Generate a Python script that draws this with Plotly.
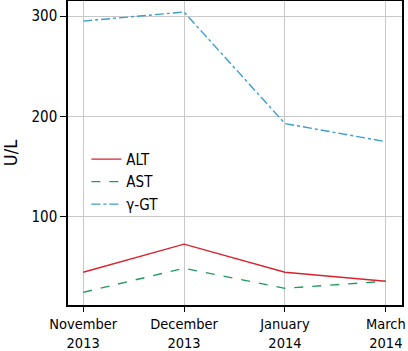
import plotly.graph_objects as go

months = ["November<br>2013", "December<br>2013", "January<br>2014", "March<br>2014"]
alt = [45, 73, 45, 36]
ast = [25, 49, 29, 36]
ggt = [295, 304, 193, 175]

FONT = "DejaVu Sans Condensed, Liberation Sans Narrow, sans-serif"

fig = go.Figure()
fig.add_trace(go.Scatter(x=[0, 1, 2, 3], y=alt, mode="lines", name="ALT",
                         line=dict(color="#d8232f", width=1.4)))
fig.add_trace(go.Scatter(x=[0, 1, 2, 3], y=ast, mode="lines", name="AST",
                         line=dict(color="#1f9a5c", width=1.4, dash="dash")))
fig.add_trace(go.Scatter(x=[0, 1, 2, 3], y=ggt, mode="lines", name="γ-GT",
                         line=dict(color="#3a9fd0", width=1.4, dash="dashdot")))

fig.update_layout(
    width=408, height=351,
    margin=dict(l=68, r=6, t=1, b=46, autoexpand=False),
    plot_bgcolor="white", paper_bgcolor="white",
    font=dict(family=FONT, size=15, color="black"),
    showlegend=True,
    legend=dict(x=0.055, y=0.405, xanchor="left", yanchor="middle",
                bgcolor="rgba(0,0,0,0)", font=dict(size=15),
                tracegroupgap=0, itemwidth=30),
    xaxis=dict(range=[-0.15, 3.16], tickmode="array", tickvals=[0, 1, 2, 3],
               ticktext=months, showline=True, linecolor="black", linewidth=1.5,
               mirror=True, ticks="outside", ticklen=5, tickcolor="black",
               tickfont=dict(size=14.5),
               showgrid=True, gridcolor="#c8c8c8", gridwidth=1, zeroline=False,
               automargin=False, tickangle=0),
    yaxis=dict(range=[12.4, 315], tickvals=[100, 200, 300],
               showline=True, linecolor="black", linewidth=1.5, mirror=True,
               ticks="outside", ticklen=6, tickcolor="black",
               showgrid=True, gridcolor="#c8c8c8", gridwidth=1, zeroline=False,
               automargin=False,
               title=dict(text="U/L", standoff=14)),
)

fig.write_html("out.html", config={"displayModeBar": False},
               post_script="document.body.style.margin='0px';document.body.style.overflow='hidden';")
